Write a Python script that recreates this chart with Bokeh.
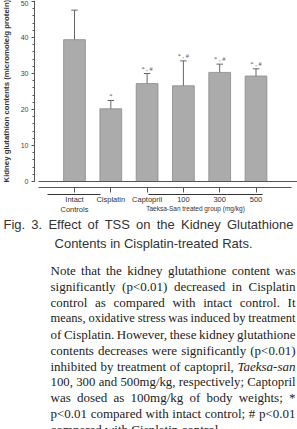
import glob
import math
from bokeh.plotting import figure
from bokeh.models import Range1d, FixedTicker, Label
from bokeh.embed import file_html
from bokeh.resources import INLINE

# ---------------- data ----------------
groups = ["Intact\nControls", "Cisplatin", "Captopril", "100", "300", "500"]
glutathione = [39.4, 20.2, 27.2, 26.6, 30.3, 29.3]
error = [8.2, 2.3, 2.8, 6.9, 2.3, 2.0]
marks = ["", "*", "* , #", "* , #", "* , #", "* , #"]
y_ticks = [0, 10, 20, 30, 40, 50]
y_minor = list(range(0, 51, 2))
y_title = "Kidney glutathion contents (micromole/g protein)"
group_title = "Taeksa-San treated group (mg/kg)"
caption1 = "Fig. 3. Effect of TSS on the Kidney Glutathione"
caption2 = "Contents in Cisplatin-treated Rats."
note_lines = [
    "Note that the kidney glutathione content was",
    "significantly (p<0.01) decreased in Cisplatin",
    "control as compared with intact control. It",
    "means, oxidative stress was induced by treatment",
    "of Cisplatin. However, these kidney glutathione",
    "contents decreases were significantly (p<0.01)",
    "inhibited by treatment of captopril, Taeksa-san",
    "100, 300 and 500mg/kg, respectively; Captopril",
    "was dosed as 100mg/kg of body weights; *",
    "p<0.01 compared with intact control; # p<0.01",
    "compared with Cisplatin control.",
]
italic_words = {"Taeksa-san"}

# ---------------- layout ----------------
W, H = 297, 429
PXU = 36.3          # pixels per category step
PYU = 3.6           # pixels per y unit
X0 = -74 / PXU
X1 = X0 + W / PXU
Y1 = 181 / PYU
Y0 = Y1 - H / PYU

p = figure(width=W, height=H, output_backend="svg", toolbar_location=None,
           x_range=Range1d(X0, X1), y_range=Range1d(Y0, Y1),
           min_border=0, min_border_left=0, min_border_right=0,
           min_border_top=0, min_border_bottom=0)
p.outline_line_color = None
p.xgrid.visible = False
p.ygrid.visible = False
p.background_fill_color = "white"
p.border_fill_color = "white"


def dx(px):
    return X0 + px / PXU


def dy(py):
    return Y1 - py / PYU


xs = list(range(len(groups)))
upper = [g + e for g, e in zip(glutathione, error)]

p.vbar(x=xs, top=glutathione, bottom=0, width=0.6,
       fill_color="#ababab", line_color="#8a8a8a", line_width=0.8)
p.segment(x0=xs, y0=glutathione, x1=xs, y1=upper, line_color="#666666", line_width=1)
p.segment(x0=[x - 0.09 for x in xs], y0=upper, x1=[x + 0.09 for x in xs], y1=upper,
          line_color="#666666", line_width=1)
p.text(x=xs, y=upper, text=marks, text_align="center", text_baseline="bottom",
       y_offset=-2, text_font_size="6.5px", text_color="#555555",
       text_font="Liberation Sans")

# baseline at y = 0
p.segment(x0=[dx(38)], y0=[0], x1=[X1], y1=[0], line_color="#555555", line_width=1)

xa = p.xaxis[0]
xa.fixed_location = dy(187)
xa.ticker = FixedTicker(ticks=xs)
xa.major_label_overrides = {i: g for i, g in enumerate(groups)}
xa.bounds = (dx(38), dx(291))
xa.major_tick_out = 5
xa.major_tick_in = 0
xa.minor_tick_out = 0
xa.minor_tick_in = 0
xa.axis_line_color = "#555555"
xa.major_tick_line_color = "#555555"
xa.major_label_text_font = "Liberation Sans"
xa.major_label_text_font_size = "7.5px"
xa.major_label_text_color = "#333333"
xa.major_label_standoff = 2

ya = p.yaxis[0]
ya.fixed_location = dx(34)
ya.ticker = FixedTicker(ticks=y_ticks, minor_ticks=y_minor)
ya.bounds = (0, Y1)
ya.major_tick_out = 3
ya.major_tick_in = 0
ya.minor_tick_out = 2
ya.minor_tick_in = 0
ya.axis_line_color = "#555555"
ya.major_tick_line_color = "#555555"
ya.minor_tick_line_color = "#555555"
ya.major_label_text_font = "Liberation Sans"
ya.major_label_text_font_size = "7px"
ya.major_label_text_color = "#444444"
ya.major_label_standoff = 3

# y-axis title
p.add_layout(Label(x=dx(6), y=dy(182), text=y_title, angle=math.pi / 2,
                   text_align="left", text_baseline="middle",
                   text_font="Liberation Sans", text_font_style="bold",
                   text_font_size="7.8px", text_color="#333333"))

# group lines and group title under x axis
for a, b in [(47, 100), (148, 262)]:
    p.segment(x0=[dx(a)], y0=[dy(194)], x1=[dx(b)], y1=[dy(194)],
              line_color="#333333", line_width=1)
p.add_layout(Label(x=dx(195), y=dy(208), text=group_title, text_align="center",
                   text_baseline="alphabetic", text_font="Liberation Sans",
                   text_font_size="6.5px", text_color="#333333"))

# ---------------- text measuring ----------------
_font_cache = {}


def _font(fname, size):
    key = (fname, size)
    if key in _font_cache:
        return _font_cache[key]
    f = None
    try:
        from PIL import ImageFont
        r = glob.glob("/usr/share/fonts/**/" + fname, recursive=True) + \
            glob.glob("/usr/local/share/fonts/**/" + fname, recursive=True)
        if r:
            f = ImageFont.truetype(r[0], size)
    except Exception:
        f = None
    _font_cache[key] = f
    return f


def measure(word, fname, size, avg):
    f = _font(fname, size)
    if f is not None:
        try:
            return f.getlength(word)
        except Exception:
            pass
    return len(word) * avg * size


def place_words(line, left, right, base, family, fname, fname_i, size, color, avg,
                just=True, min_gap=2.6):
    words = line.split()

    def widths_for(sz):
        return [measure(w, fname_i if w in italic_words else fname, sz, avg)
                for w in words]

    widths = widths_for(size)
    if just:
        # shrink the font if the line would not fit with a minimal word gap
        while sum(widths) + min_gap * (len(words) - 1) > right - left and size > 9:
            size = round(size - 0.25, 2)
            widths = widths_for(size)
        gap = (right - left - sum(widths)) / max(len(words) - 1, 1)
    else:
        gap = measure(" ", fname, size, avg)
    x = left
    for w, wd in zip(words, widths):
        p.add_layout(Label(x=dx(x), y=dy(base), text=w, text_align="left",
                           text_baseline="alphabetic", text_font=family,
                           text_font_style="italic" if w in italic_words else "normal",
                           text_font_size=f"{size}px", text_color=color))
        x += wd + gap


# caption
place_words(caption1, 3, 293, 224, "Liberation Sans", "LiberationSans-Regular.ttf",
            "LiberationSans-Italic.ttf", 13, "#333333", 0.5)
p.add_layout(Label(x=dx(153), y=dy(243), text=caption2, text_align="center",
                   text_baseline="alphabetic", text_font="Liberation Sans",
                   text_font_size="13px", text_color="#333333"))

# note paragraph
for i, line in enumerate(note_lines):
    base = 269.8 + i * 15.95
    place_words(line, 50, 295, base, "Liberation Serif", "LiberationSerif-Regular.ttf",
                "LiberationSerif-Italic.ttf", 13, "#222222", 0.44,
                just=(i != len(note_lines) - 1))

open("out.html", "w").write(file_html(p, INLINE))
